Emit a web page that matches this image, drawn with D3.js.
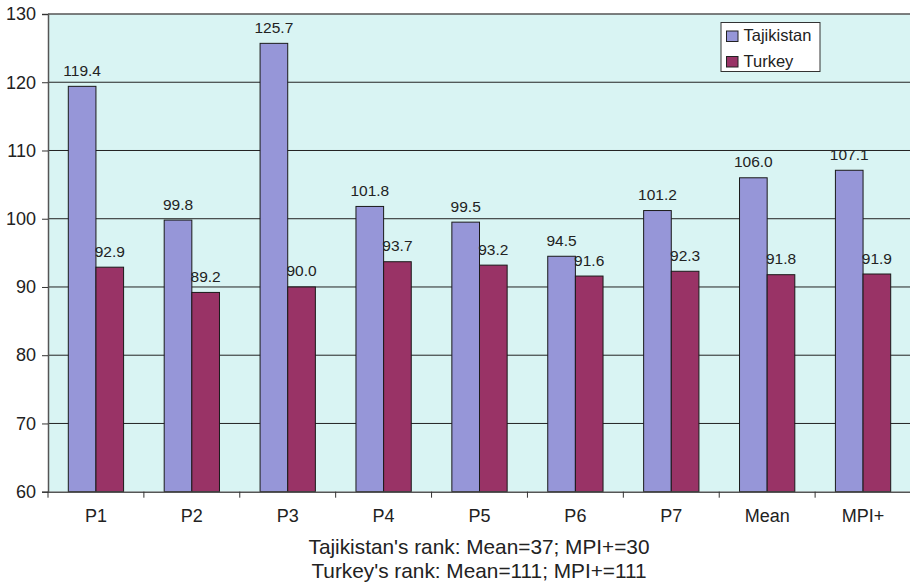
<!DOCTYPE html>
<html>
<head>
<meta charset="utf-8">
<script src="https://cdn.jsdelivr.net/npm/d3@7"></script>
<style>
  html, body { margin: 0; padding: 0; background: #ffffff; }
  svg { display: block; font-family: "Liberation Sans", Arial, sans-serif; }
</style>
</head>
<body>
<svg id="chart" width="910" height="583"></svg>
<script>
// Categories and series values
const categories = ["P1", "P2", "P3", "P4", "P5", "P6", "P7", "Mean", "MPI+"];
const seriesNames = ["Tajikistan", "Turkey"];
const tajikistan = [119.4, 99.8, 125.7, 101.8, 99.5, 94.5, 101.2, 106.0, 107.1];
const turkey = [92.9, 89.2, 90.0, 93.7, 93.2, 91.6, 92.3, 91.8, 91.9];
const yTicks = [60, 70, 80, 90, 100, 110, 120, 130];
const captionLines = [
  "Tajikistan's rank: Mean=37; MPI+=30",
  "Turkey's rank: Mean=111; MPI+=111"
];
const colors = ["#9696d8", "#993366"];

const svg = d3.select("#chart");
const margin = { left: 48, top: 14, right: 911, bottom: 491.7 };
const font = "Liberation Sans, Arial, sans-serif";

const x = d3.scaleBand().domain(categories).range([margin.left, margin.right]);
const inner = d3.scaleBand().domain(seriesNames)
  .range([20.3, x.bandwidth() - 20.3]).padding(0);
const y = d3.scaleLinear().domain([60, 130]).range([margin.bottom, margin.top]);

// Plot background
svg.append("rect")
  .attr("x", margin.left).attr("y", margin.top)
  .attr("width", margin.right - margin.left)
  .attr("height", margin.bottom - margin.top)
  .attr("fill", "#d9f4f3");

// Horizontal gridlines
svg.append("g").selectAll("line")
  .data(yTicks.filter(d => d > 60))
  .join("line")
  .attr("x1", margin.left).attr("x2", margin.right)
  .attr("y1", d => y(d)).attr("y2", d => y(d))
  .attr("stroke", d => d === 130 ? "#555" : "#222")
  .attr("stroke-width", d => d === 130 ? 1.5 : 1);

// Bars
const rows = categories.map((c, i) => ({ cat: c, vals: [tajikistan[i], turkey[i]] }));
const groups = svg.append("g").selectAll("g")
  .data(rows).join("g")
  .attr("transform", d => `translate(${x(d.cat)},0)`);

groups.selectAll("rect")
  .data(d => d.vals.map((v, j) => ({ name: seriesNames[j], v, j })))
  .join("rect")
  .attr("x", d => inner(d.name))
  .attr("y", d => y(d.v))
  .attr("width", inner.bandwidth())
  .attr("height", d => y(60) - y(d.v))
  .attr("fill", d => colors[d.j])
  .attr("stroke", "#1a1a1a")
  .attr("stroke-width", 1);

groups.selectAll("text")
  .data(d => d.vals.map((v, j) => ({ name: seriesNames[j], v, j })))
  .join("text")
  .attr("x", d => inner(d.name) + inner.bandwidth() / 2)
  .attr("y", d => y(d.v) - 10.5)
  .attr("text-anchor", "middle")
  .attr("font-size", 15.5)
  .attr("font-family", font)
  .attr("fill", "#222")
  .text(d => d.v.toFixed(1));

// Y axis
const yAxis = svg.append("g")
  .attr("transform", `translate(${margin.left},0)`)
  .call(d3.axisLeft(y).tickValues(yTicks).tickSize(6).tickPadding(6));
yAxis.select(".domain").attr("stroke", "#555").attr("stroke-width", 1.5);
yAxis.selectAll(".tick line").attr("stroke", "#333");
yAxis.selectAll("text").attr("font-size", 18).attr("fill", "#222")
  .attr("font-family", font);

// X axis
const xAxis = svg.append("g")
  .attr("transform", `translate(0,${margin.bottom})`)
  .call(d3.axisBottom(x).tickSize(0).tickPadding(0));
xAxis.select(".domain").attr("stroke", "#555").attr("stroke-width", 1.5);
xAxis.selectAll("text").attr("y", 30).attr("dy", 0)
  .attr("font-size", 18).attr("fill", "#222")
  .attr("font-family", font);
// Tick marks between categories
svg.append("g").selectAll("line")
  .data(d3.range(categories.length + 1))
  .join("line")
  .attr("x1", i => margin.left + i * x.step())
  .attr("x2", i => margin.left + i * x.step())
  .attr("y1", margin.bottom).attr("y2", margin.bottom + 6)
  .attr("stroke", "#333");

// Caption
svg.append("g").selectAll("text")
  .data(captionLines).join("text")
  .attr("x", 479)
  .attr("y", (d, i) => 554 + i * 24)
  .attr("text-anchor", "middle")
  .attr("font-size", 20.8)
  .attr("font-family", font)
  .attr("fill", "#222")
  .text(d => d);

// Legend
const legend = svg.append("g").attr("transform", "translate(721,22.5)");
legend.append("rect")
  .attr("width", 99).attr("height", 49)
  .attr("fill", "#ffffff").attr("stroke", "#333").attr("stroke-width", 1);
seriesNames.forEach((name, i) => {
  legend.append("rect")
    .attr("x", 5.5).attr("y", 8.5 + i * 25.5)
    .attr("width", 11.5).attr("height", 10.5)
    .attr("fill", colors[i]).attr("stroke", "#222");
  legend.append("text")
    .attr("x", 22.5).attr("y", 18.5 + i * 25.5)
    .attr("font-size", 16.5).attr("fill", "#222")
    .attr("font-family", font)
    .text(name);
});
</script>
</body>
</html>
